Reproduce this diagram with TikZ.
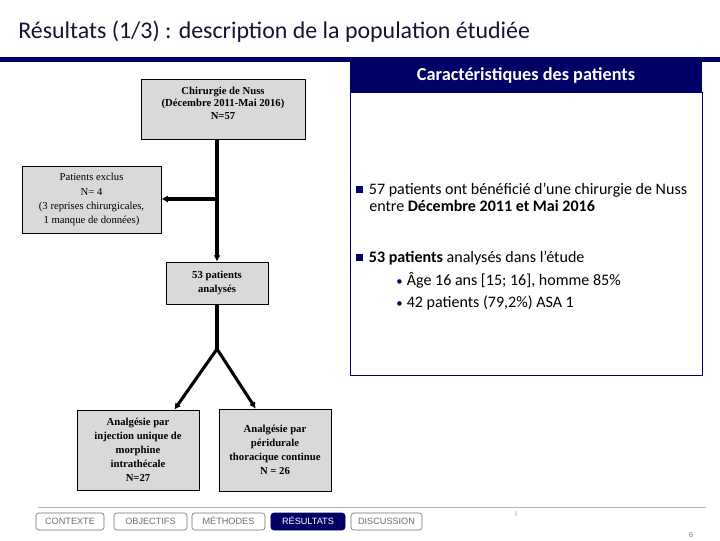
\documentclass[tikz,border=0pt]{standalone}
\usepackage{fontspec}
\setmainfont{Liberation Serif}
\newfontfamily\calib{Carlito}
\newfontfamily\arialf{Liberation Sans}
\usetikzlibrary{arrows.meta}
\definecolor{navy}{RGB}{0,0,102}
\definecolor{titlecol}{RGB}{20,20,50}
\definecolor{boxgray}{RGB}{217,217,217}
\definecolor{tabgray}{RGB}{110,110,110}
\newcommand\sqbul{\makebox[9pt][l]{\textcolor{navy}{\rule[1pt]{4.5pt}{4.5pt}}}}
\newcommand\rndbul{\makebox[7.5pt][l]{\textcolor{navy}{\small\textbullet}}}

\tikzset{
  flowbox/.style={draw=black, line width=0.6pt, fill=boxgray, align=center, inner sep=2pt, font=\fontsize{7.6}{10}\selectfont},
  boldbox/.style={flowbox, font=\bfseries\fontsize{7.6}{10}\selectfont},
  flowline/.style={line width=2.2pt},
  flowarrow/.style={line width=2.2pt, -{Latex[length=4.5pt,width=5pt]}},
  navtab/.style={draw=tabgray, rounded corners=2pt, minimum height=0.425cm, inner sep=0pt, text height=4.8pt, text depth=0.4pt, font=\arialf\fontsize{6.5}{7}\selectfont, text=tabgray},
  paneltext/.style={anchor=base west, inner sep=0pt, font=\calib\fontsize{11.4}{13}\selectfont, text=black},
}

\begin{document}
\begin{tikzpicture}[x=0.025cm, y=-0.025cm]
\useasboundingbox (0,0) rectangle (720,540);

% --- titre et bandeau ---
\node (title) [anchor=base west, inner sep=0pt, text=titlecol, font=\calib\fontsize{17}{20}\selectfont] at (18,38) {Résultats (1/3) : description de la population étudiée};
\draw[navy, line width=3pt] (0,59.5) -- (720,59.5);

% --- organigramme ---
\node (nuss) [flowbox, minimum width=4.1cm, minimum height=1.5cm] at (223,109) {};
\node (nusstext) [anchor=north, align=center, inner sep=0pt, font=\bfseries\fontsize{7.6}{9}\selectfont] at ([yshift=-0.2cm]nuss.north) {Chirurgie de Nuss\\(Décembre 2011-Mai 2016)\\N=57};
\node (exclus) [flowbox, minimum width=3.475cm, minimum height=1.675cm] at (91.5,199.5) {Patients exclus\\N= 4\\(3 reprises chirurgicales,\\1 manque de données)};
\node (analyses) [boldbox, minimum width=2.55cm, minimum height=1.05cm] at (217,283) {53 patients\\analysés};
\node (morphine) [boldbox, minimum width=3.05cm, minimum height=2cm] at (138,450) {Analgésie par\\injection unique de\\morphine\\intrathécale\\N=27};
\node (peridurale) [boldbox, minimum width=2.8cm, minimum height=2.05cm] at (275,450) {Analgésie par\\péridurale\\thoracique continue\\N = 26};

\coordinate (excl) at (217,199);
\coordinate (split) at (217,349);
\draw[flowarrow] (nuss.south -| analyses.north) -- (analyses.north);
\draw[flowarrow] (excl) -- (excl -| exclus.east);
\draw[flowline] (analyses.south) -- (split);
\draw[flowarrow] (split) -- (morphine.48);
\draw[flowarrow] (split) -- (peridurale.115);

% --- caracteristiques des patients ---
\node (tab) [fill=navy, minimum width=8.8cm, minimum height=0.8cm, inner sep=0pt, text=white, font=\calib\bfseries\fontsize{13}{15}\selectfont] at (526,76) {Caractéristiques des patients};
\node (panel) [draw=navy, line width=0.6pt, minimum width=8.8cm, minimum height=7.075cm, inner sep=0pt] at (526,233.5) {};
\node (pt1) [paneltext] at (356,194) {\sqbul 57 patients ont bénéficié d’une chirurgie de Nuss};
\node (pt1b) [paneltext] at (369,211) {entre \textbf{Décembre 2011 et Mai 2016}};
\node (pt2) [paneltext] at (356,262) {\sqbul\textbf{53 patients} analysés dans l’étude};
\node (pt2a) [paneltext] at (396,285) {\rndbul Âge 16 ans [15; 16], homme 85\%};
\node (pt2b) [paneltext] at (396,307) {\rndbul 42 patients (79,2\%) ASA 1};

% --- navigation ---
\draw[gray!60, line width=0.6pt] (38,507) -- (706,507);
\node (contexte) [navtab, minimum width=1.7cm] at (70,521.5) {CONTEXTE};
\node (objectifs) [navtab, minimum width=1.825cm] at (150.5,521.5) {OBJECTIFS};
\node (methodes) [navtab, minimum width=1.825cm] at (228.5,521.5) {MÉTHODES};
\node (resultats) [navtab, minimum width=1.85cm, fill=navy, draw=navy, text=white] at (308,521.5) {RÉSULTATS};
\node (discussion) [navtab, minimum width=1.775cm] at (386.5,521.5) {DISCUSSION};
\node (tick) [inner sep=0pt, text=tabgray, font=\arialf\fontsize{4}{5}\selectfont] at (516,514) {|};
\node (page) [inner sep=0pt, text=tabgray, font=\arialf\fontsize{5}{6}\selectfont] at (691,535) {6};
\end{tikzpicture}
\end{document}
